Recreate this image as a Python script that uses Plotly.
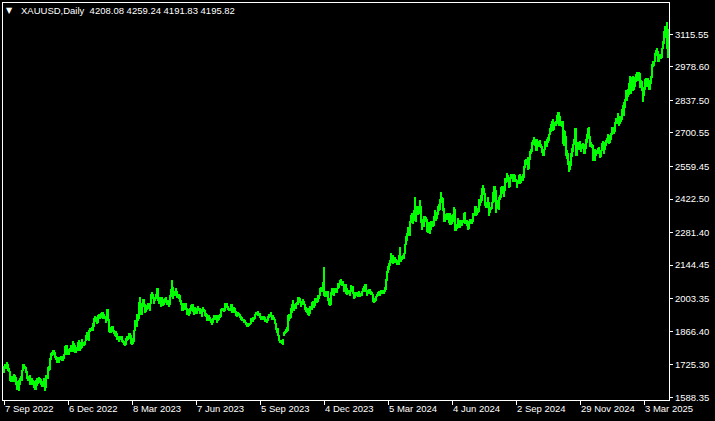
import pandas as pd
import plotly.graph_objects as go

# ---- data: XAUUSD daily bars (low / high), one row per month ----
bar_low = [
    # Sep 2022
    1690,1708,1708,1714,1697,1696,1659,1654,1654,1660,1654,1659,1639,1621,1620,1615,1641,1655,
    # Oct 2022
    1659,1697,1706,1707,1691,1666,1659,1663,1642,1640,1642,1645,1627,1621,1617,1638,1645,1650,1658,1640,1630,
    # Nov 2022
    1632,1633,1616,1629,1669,1667,1700,1703,1745,1761,1768,1767,1754,1745,1731,1732,1733,1748,1746,1739,1740,1748,
    # Dec 2022
    1767,1787,1765,1766,1768,1780,1786,1781,1779,1802,1773,1774,1782,1784,1811,1784,1792,1795,1803,1803,1808,
    # Jan 2023
    1826,1838,1830,1826,1865,1867,1866,1867,1886,1910,1906,1897,1901,1922,1917,1924,1932,1918,1923,1917,1900,
    # Feb 2023
    1918,1910,1862,1858,1860,1866,1862,1853,1848,1843,1829,1831,1819,1836,1831,1820,1817,1809,1804,1810,
    # Mar 2023
    1825,1830,1834,1842,1813,1809,1811,1823,1866,1895,1886,1908,1918,1975,1934,1934,1967,1975,1944,1949,1954,1958,1962,
    # Apr 2023
    1950,1980,2010,2002,1981,1992,2000,2011,1992,1981,1991,1969,1991,1972,1976,1984,1990,1975,1976,
    # May 2023
    1969,1978,2010,2032,2004,2015,2015,2022,2007,2005,2000,1989,1975,1952,1952,1962,1956,1957,1936,1937,1932,1940,1951,
    # Jun 2023
    1950,1946,1933,1955,1940,1938,1953,1952,1940,1938,1925,1952,1947,1932,1928,1911,1910,1919,1911,1903,1893,1900,
    # Jul 2023
    1913,1918,1912,1902,1909,1915,1922,1928,1954,1950,1946,1952,1969,1965,1957,1952,1953,1955,1942,1943,1954,
    # Aug 2023
    1941,1932,1927,1930,1932,1922,1912,1910,1909,1902,1899,1891,1885,1885,1887,1892,1895,1912,1904,1913,1917,1935,1935,
    # Sep 2023
    1931,1935,1922,1915,1914,1915,1915,1907,1905,1901,1909,1922,1927,1928,1913,1917,1913,1896,1871,1857,1846,
    # Oct 2023
    1826,1815,1816,1813,1810,1846,1855,1858,1863,1867,1908,1917,1923,1945,1962,1953,1961,1961,1978,1978,1992,1984,
    # Nov 2023
    1970,1978,1980,1975,1957,1946,1945,1933,1931,1940,1955,1957,1973,1966,1973,1985,1987,1990,2000,2014,2036,2031,
    # Dec 2023
    2035,2015,2010,2011,2017,1995,1975,1973,1975,2021,2017,2016,2026,2029,2029,2043,2050,2065,2062,2058,
    # Jan 2024
    2058,2030,2033,2024,2017,2021,2021,2013,2032,2044,2023,2002,2008,2020,2016,2011,2013,2009,2016,2016,2030,2030,
    # Feb 2024
    2036,2033,2015,2022,2028,2023,2020,2017,1990,1984,1988,1995,2010,2014,2020,2016,2021,2025,2026,2024,2030,
    # Mar 2024
    2038,2077,2111,2126,2141,2154,2175,2150,2155,2154,2155,2146,2146,2146,2164,2157,2164,2170,2172,2190,
    # Apr 2024
    2228,2244,2272,2268,2266,2321,2330,2319,2331,2341,2324,2367,2354,2359,2377,2322,2291,2308,2305,2327,2325,2285,
    # May 2024
    2281,2293,2277,2291,2306,2303,2307,2340,2331,2339,2354,2371,2375,2412,2407,2374,2325,2326,2333,2343,2333,2323,2314,
    # Jun 2024
    2314,2316,2326,2353,2287,2286,2298,2299,2300,2302,2309,2310,2323,2327,2316,2318,2310,2293,2298,2318,
    # Jul 2024
    2318,2319,2327,2351,2353,2350,2355,2363,2367,2392,2405,2414,2455,2441,2393,2384,2385,2402,2353,2363,2377,2379,2405,
    # Aug 2024
    2432,2410,2364,2385,2380,2378,2418,2426,2455,2443,2431,2455,2489,2495,2502,2470,2474,2506,2508,2495,2504,2493,
    # Sep 2024
    2493,2471,2484,2490,2485,2491,2500,2500,2509,2553,2574,2565,2546,2547,2586,2613,2620,2651,2652,2644,2624,
    # Oct 2024
    2625,2647,2642,2642,2638,2616,2604,2603,2627,2640,2640,2660,2667,2693,2704,2716,2709,2714,2728,2731,2738,2769,2730,
    # Nov 2024
    2733,2730,2725,2652,2644,2676,2602,2589,2565,2536,2546,2562,2601,2622,2648,2665,2605,2605,2628,2630,2634,
    # Dec 2024
    2622,2631,2633,2613,2613,2631,2657,2685,2675,2643,2642,2636,2583,2583,2582,2604,2612,2614,2616,2597,2600,
    # Jan 2025
    2623,2637,2614,2629,2645,2658,2666,2656,2660,2669,2693,2700,2696,2705,2742,2739,2752,2731,2740,2748,2753,2772,
    # Feb 2025
    2771,2805,2836,2834,2853,2860,2879,2865,2895,2878,2881,2895,2914,2924,2920,2929,2890,2894,2876,2832,
    # Mar 2025
    2856,2880,2904,2893,2894,2880,2880,2906,2930,2978,2982,2998,3024,3025,2999,3000,3010,3012,3015,3055,3076,
    # Apr 2025
    3100,3105,3054,3015,
]

bar_high = [
    # Sep 2022
    1719,1729,1729,1735,1729,1712,1700,1679,1679,1677,1688,1681,1674,1655,1642,1662,1669,1676,
    # Oct 2022
    1705,1729,1730,1721,1716,1697,1680,1680,1682,1671,1668,1662,1658,1645,1662,1670,1660,1674,1670,1665,1650,
    # Nov 2022
    1655,1669,1636,1682,1684,1717,1722,1755,1773,1781,1787,1786,1777,1764,1756,1748,1756,1760,1763,1764,1763,1769,
    # Dec 2022
    1805,1810,1810,1786,1790,1795,1810,1800,1825,1815,1808,1800,1799,1822,1828,1823,1805,1833,1815,1820,1826,
    # Jan 2023
    1850,1865,1858,1870,1881,1882,1884,1900,1922,1930,1920,1928,1935,1938,1935,1942,1949,1949,1937,1932,1930,
    # Feb 2023
    1958,1960,1918,1880,1883,1887,1890,1872,1868,1868,1857,1845,1845,1846,1846,1848,1829,1827,1819,1836,
    # Mar 2023
    1845,1845,1858,1858,1850,1823,1836,1870,1914,1915,1937,1935,1989,2009,1984,1975,2003,2004,1983,1975,1975,1985,1987,
    # Apr 2023
    1987,2025,2032,2023,2010,2009,2022,2048,2048,2006,2012,2006,2012,2004,1998,2005,2009,1996,1999,
    # May 2023
    1993,2019,2042,2080,2054,2030,2037,2048,2037,2023,2022,2020,1997,1983,1984,1984,1980,1985,1965,1958,1950,1965,1975,
    # Jun 2023
    1983,1983,1963,1968,1966,1966,1971,1966,1963,1959,1960,1969,1961,1954,1943,1937,1927,1934,1925,1918,1912,1920,
    # Jul 2023
    1933,1931,1933,1935,1935,1930,1939,1960,1964,1963,1958,1984,1983,1987,1973,1964,1966,1982,1982,1966,1970,
    # Aug 2023
    1966,1950,1940,1947,1945,1939,1929,1925,1919,1917,1912,1907,1901,1896,1900,1903,1920,1922,1925,1924,1938,1948,1949,
    # Sep 2023
    1953,1943,1942,1930,1924,1930,1930,1926,1918,1915,1932,1937,1937,1947,1931,1934,1925,1918,1903,1880,1879,
    # Oct 2023
    1850,1830,1829,1826,1835,1864,1867,1877,1885,1933,1937,1937,1962,1980,1997,1982,1976,1986,1990,2009,2010,2008,
    # Nov 2023
    1987,1994,2004,1994,1979,1969,1964,1962,1947,1971,1970,1988,1993,1985,2007,2008,1997,2018,2017,2048,2052,2052,
    # Dec 2023
    2075,2135,2032,2036,2035,2035,2006,1996,2030,2048,2047,2031,2047,2046,2048,2071,2069,2083,2088,2074,
    # Jan 2024
    2078,2065,2050,2064,2048,2040,2040,2040,2062,2058,2058,2030,2027,2032,2033,2031,2037,2025,2028,2037,2049,2056,
    # Feb 2024
    2065,2065,2040,2040,2042,2042,2036,2030,2022,1996,2006,2015,2022,2031,2035,2034,2041,2038,2040,2037,2052,
    # Mar 2024
    2088,2119,2141,2153,2165,2195,2189,2185,2180,2178,2170,2164,2162,2188,2222,2182,2177,2188,2197,2235,
    # Apr 2024
    2266,2281,2305,2305,2330,2354,2365,2358,2378,2431,2388,2392,2395,2386,2417,2394,2334,2338,2351,2352,2349,2340,
    # May 2024
    2326,2327,2325,2331,2330,2326,2350,2378,2368,2365,2395,2400,2422,2450,2432,2426,2386,2343,2358,2364,2363,2351,2362,
    # Jun 2024
    2354,2354,2358,2388,2379,2314,2317,2342,2327,2336,2334,2336,2333,2365,2368,2335,2336,2325,2331,2338,
    # Jul 2024
    2338,2336,2364,2364,2392,2393,2373,2385,2424,2419,2440,2469,2483,2468,2448,2405,2412,2431,2410,2390,2391,2412,2451,
    # Aug 2024
    2477,2477,2460,2420,2408,2432,2439,2474,2479,2478,2463,2509,2510,2531,2524,2514,2512,2526,2526,2527,2528,2523,
    # Sep 2024
    2506,2503,2504,2523,2529,2507,2518,2529,2560,2586,2590,2590,2600,2595,2625,2633,2664,2670,2685,2674,2665,
    # Oct 2024
    2673,2667,2667,2671,2654,2646,2625,2635,2667,2660,2673,2684,2696,2722,2740,2749,2758,2738,2747,2749,2775,2790,2790,
    # Nov 2024
    2770,2747,2750,2750,2711,2710,2687,2628,2618,2582,2576,2615,2639,2656,2676,2721,2721,2640,2664,2646,2665,
    # Dec 2024
    2649,2654,2657,2655,2648,2676,2697,2721,2726,2687,2664,2656,2651,2634,2632,2628,2625,2638,2640,2625,2628,
    # Jan 2025
    2660,2665,2647,2663,2670,2679,2697,2693,2679,2700,2725,2726,2713,2745,2763,2760,2786,2772,2765,2771,2800,2817,
    # Feb 2025
    2830,2845,2882,2870,2887,2911,2942,2911,2935,2942,2906,2938,2947,2955,2954,2956,2954,2925,2919,2881,
    # Mar 2025
    2895,2928,2930,2925,2930,2915,2922,2941,2990,3005,3002,3038,3048,3057,3047,3031,3030,3034,3059,3087,3128,
    # Apr 2025
    3149,3136,3167,3136,
]

market_holidays = ["2022-12-26", "2023-01-02", "2023-04-07", "2023-12-25",
                   "2024-01-01", "2024-03-29", "2024-12-25", "2025-01-01"]
bar_dates = [d.strftime("%Y-%m-%d") for d in pd.bdate_range("2022-09-07", "2025-04-04")
             if d.strftime("%Y-%m-%d") not in market_holidays]
if len(bar_dates) != len(bar_low) or len(bar_low) != len(bar_high):
    raise SystemExit(f"length mismatch {len(bar_dates)} {len(bar_low)} {len(bar_high)}")

x_tick_dates = ["2022-09-07", "2022-12-06", "2023-03-08", "2023-06-07", "2023-09-05",
                "2023-12-04", "2024-03-05", "2024-06-04", "2024-09-02", "2024-11-29", "2025-03-03"]
x_tick_labels = ["7 Sep 2022", "6 Dec 2022", "8 Mar 2023", "7 Jun 2023", "5 Sep 2023",
                 "4 Dec 2023", "5 Mar 2024", "4 Jun 2024", "2 Sep 2024", "29 Nov 2024", "3 Mar 2025"]
y_tick_labels = ["3115.55", "2978.60", "2837.50", "2700.55", "2559.45", "2422.50",
                 "2281.40", "2144.45", "2003.35", "1866.40", "1725.30", "1588.35"]
y_tick_values = [float(s) for s in y_tick_labels]

header_text = "XAUUSD,Daily\u00a0\u00a04208.08 4259.24 4191.83 4195.82"

FONT = "Liberation Sans, Arial, sans-serif"
W, H = 715, 421
L, R, T, B = 3, 46, 3, 21

fig = go.Figure()
fig.add_trace(go.Bar(
    x=bar_dates,
    y=[h - l for h, l in zip(bar_high, bar_low)],
    base=bar_low,
    width=1.0,
    marker=dict(color="#00FF00", line=dict(width=0)),
    hoverinfo="skip",
))

fig.update_layout(
    width=W, height=H,
    margin=dict(l=L, r=R, t=T, b=B, pad=0, autoexpand=False),
    paper_bgcolor="#000000", plot_bgcolor="#000000",
    bargap=0, showlegend=False,
    font=dict(family=FONT, size=9.5, color="#FFFFFF"),
    xaxis=dict(
        type="category", range=[-1, len(bar_dates)],
        tickmode="array", tickvals=x_tick_dates, ticktext=x_tick_labels,
        ticks="outside", ticklen=4, tickwidth=1, tickcolor="#FFFFFF",
        ticklabelposition="outside right", automargin=False,
        showgrid=False, zeroline=False,
        showline=True, mirror=True, linecolor="#FFFFFF", linewidth=1,
        tickfont=dict(family=FONT, size=9.5, color="#FFFFFF"),
    ),
    yaxis=dict(
        side="right", range=[1577.0, 3247.2], automargin=False,
        tickmode="array", tickvals=y_tick_values, ticktext=y_tick_labels,
        ticks="outside", ticklen=3, tickwidth=1, tickcolor="#FFFFFF",
        showgrid=False, zeroline=False,
        showline=True, mirror=True, linecolor="#FFFFFF", linewidth=1,
        tickfont=dict(family=FONT, size=9.5, color="#FFFFFF"),
    ),
)

plot_w = W - L - R
plot_h = H - T - B
fig.add_annotation(
    xref="paper", yref="paper",
    x=(19 - L) / plot_w, y=(H - B - 11) / plot_h,
    xanchor="left", yanchor="middle",
    text=header_text, showarrow=False,
    font=dict(family=FONT, size=9.5, color="#FFFFFF"),
)
fig.add_annotation(
    xref="paper", yref="paper",
    x=(9.5 - L) / plot_w, y=(H - B - 10.5) / plot_h,
    xanchor="center", yanchor="middle",
    text="\u25BC", showarrow=False,
    font=dict(family="DejaVu Sans", size=8, color="#FFFFFF"),
)

fig.write_html(
    "out.html",
    config={"displayModeBar": False},
    post_script="document.body.style.margin='0';document.body.style.background='#000';",
)
